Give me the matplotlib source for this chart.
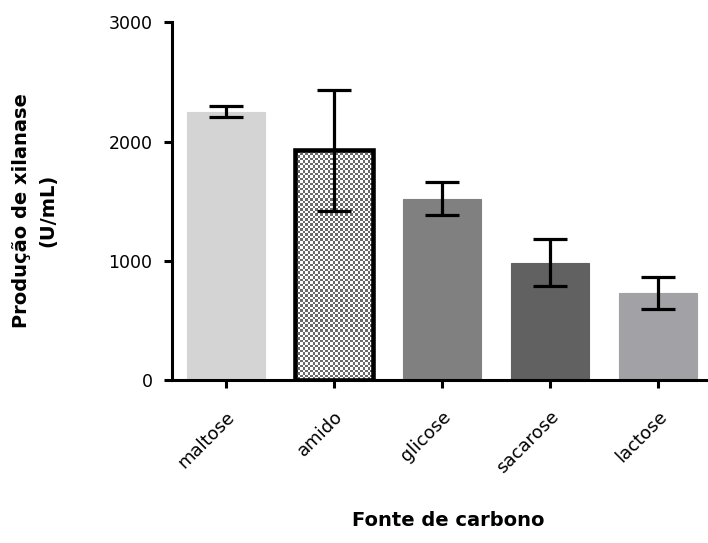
import numpy as np
import matplotlib
matplotlib.use("Agg")
import matplotlib.pyplot as plt

plt.rcParams['font.family'] = ['DejaVu Sans']

# Dados
fontes = ["maltose", "amido", "glicose", "sacarose", "lactose"]
producao = [2250, 1925, 1520, 985, 730]
erro = [45, 510, 140, 200, 135]
cores = ["#d4d4d4", "#ffffff", "#808080", "#616161", "#a2a1a5"]

fig = plt.figure(figsize=(7.08, 5.43), dpi=100)
ax = fig.add_axes([0.243, 0.300, 1 - 0.243, 0.659])

x = np.arange(len(fontes))
barras = ax.bar(x, producao, width=0.72, color=cores, edgecolor=cores, linewidth=0.8, zorder=2)

# barra do amido: contorno preto e padrão xadrez
b = barras[1]
b.set_facecolor("none")
b.set_edgecolor("black")
b.set_linewidth(3.3)
b.set_zorder(3)
cel_px = 2.5
larg_px = 0.72 * 108
alt_px = producao[1] * 0.11933
nx, ny = int(larg_px / cel_px), int(alt_px / cel_px)
ii, jj = np.indices((ny, nx))
xadrez = ((ii + jj) % 2).astype(float)
img = ax.imshow(xadrez, cmap=matplotlib.colors.ListedColormap(["#ffffff", "#6a6a6a"]),
                extent=[b.get_x(), b.get_x() + b.get_width(), 0, producao[1]],
                aspect="auto", interpolation="nearest", zorder=2)
img.set_clip_path(b)

ax.errorbar(x, producao, yerr=erro, fmt="none", ecolor="black", elinewidth=2.3,
            capsize=12.5, capthick=2.3, zorder=4)

ax.set_xlim(-0.5, 4.5 - 4 / 108)
ax.set_ylim(0, 3000)
ax.set_yticks([0, 1000, 2000, 3000])
ax.set_xticks(x)
ax.set_xticklabels(fontes, rotation=45, ha="right", va="top", rotation_mode="anchor", fontsize=13)
ax.tick_params(axis="y", labelsize=12.5, direction="out", length=6, width=2.2, pad=8)
ax.tick_params(axis="x", direction="out", length=6, width=2.2, pad=14)

for s in ["top", "right"]:
    ax.spines[s].set_visible(False)
for s in ["left", "bottom"]:
    ax.spines[s].set_linewidth(2.2)

ax.set_xlabel("Fonte de carbono", fontsize=14, fontweight="bold")
ax.xaxis.set_label_coords(0.515, -0.391)
ax.xaxis.label.set_va("center")
ax.set_ylabel("Produção de xilanase\n(U/mL)", fontsize=14, fontweight="bold", linespacing=1.45)
ax.yaxis.set_label_coords(-0.256, 0.475)
ax.yaxis.label.set_va("center")

fig.savefig("out.png", dpi=100)
